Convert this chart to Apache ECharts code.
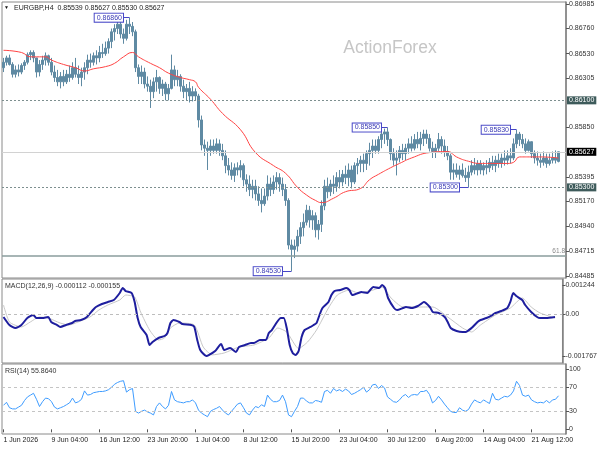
<!DOCTYPE html>
<html><head><meta charset="utf-8">
<script src="https://cdn.jsdelivr.net/npm/echarts@6/dist/echarts.min.js"></script>
<style>html,body{margin:0;padding:0;background:#fff}#c{width:600px;height:450px}</style>
</head><body><div id="c"></div>
<script>
// ---- data ----
const tickLabels = ['1 Jun 2026','9 Jun 04:00','16 Jun 12:00','23 Jun 20:00','1 Jul 04:00','8 Jul 12:00','15 Jul 20:00','23 Jul 04:00','30 Jul 12:00','6 Aug 20:00','14 Aug 04:00','21 Aug 12:00'];
const barsPerTick = 16;
const slotCount = 188;

const opens = [
.8640,.8645,.8649,.8643,.8634,.8638,.8636,.8642,.8645,.8652,
.8654,.8649,.8636,.8643,.8647,.8651,.8645,.8636,.8631,.8627,
.8632,.8627,.8634,.8631,.8640,.8634,.8631,.8636,.8640,.8647,
.8645,.8651,.8649,.8654,.8653,.8658,.8664,.8673,.8676,.8680,
.8671,.8667,.8680,.8678,.8673,.8640,.8632,.8636,.8625,.8623,
.8618,.8627,.8631,.8621,.8625,.8616,.8621,.8638,.8629,.8632,
.8623,.8618,.8621,.8614,.8618,.8614,.8592,.8569,.8566,.8564,
.8568,.8564,.8570,.8564,.8559,.8550,.8546,.8541,.8548,.8546,
.8550,.8537,.8533,.8528,.8531,.8524,.8518,.8515,.8522,.8533,
.8528,.8535,.8539,.8533,.8528,.8518,.8477,.8473,.8476,.8485,
.8493,.8498,.8509,.8500,.8504,.8491,.8496,.8513,.8531,.8526,
.8533,.8531,.8539,.8535,.8542,.8539,.8546,.8535,.8550,.8552,
.8555,.8552,.8561,.8564,.8568,.8564,.8574,.8579,.8581,.8574,
.8561,.8555,.8557,.8564,.8561,.8566,.8570,.8566,.8574,.8570,
.8575,.8579,.8575,.8566,.8563,.8566,.8574,.8568,.8563,.8559,
.8544,.8546,.8542,.8546,.8541,.8539,.8544,.8550,.8546,.8552,
.8546,.8550,.8548,.8553,.8550,.8555,.8552,.8557,.8555,.8559,
.8557,.8570,.8579,.8574,.8570,.8564,.8572,.8561,.8557,.8555,
.8553,.8557,.8552,.8555,.8557,.85539];
const closes = [
.8645,.8649,.8643,.8634,.8638,.8636,.8642,.8645,.8652,.8654,
.8649,.8636,.8643,.8647,.8651,.8645,.8636,.8631,.8627,.8632,
.8627,.8634,.8631,.8640,.8634,.8631,.8636,.8640,.8647,.8645,
.8651,.8649,.8654,.8653,.8658,.8664,.8673,.8676,.8680,.8671,
.8667,.8680,.8678,.8673,.8640,.8632,.8636,.8625,.8623,.8618,
.8627,.8631,.8621,.8625,.8616,.8621,.8638,.8629,.8632,.8623,
.8618,.8621,.8614,.8618,.8614,.8592,.8569,.8566,.8564,.8568,
.8564,.8570,.8564,.8559,.8550,.8546,.8541,.8548,.8546,.8550,
.8537,.8533,.8528,.8531,.8524,.8518,.8515,.8522,.8533,.8528,
.8535,.8539,.8533,.8528,.8518,.8477,.8473,.8476,.8485,.8493,
.8498,.8509,.8500,.8504,.8491,.8496,.8513,.8531,.8526,.8533,
.8531,.8539,.8535,.8542,.8539,.8546,.8535,.8550,.8552,.8555,
.8552,.8561,.8564,.8568,.8564,.8574,.8579,.8581,.8574,.8561,
.8555,.8557,.8564,.8561,.8566,.8570,.8566,.8574,.8570,.8575,
.8579,.8575,.8566,.8563,.8566,.8574,.8568,.8563,.8559,.8544,
.8546,.8542,.8546,.8541,.8539,.8544,.8550,.8546,.8552,.8546,
.8550,.8548,.8553,.8550,.8555,.8552,.8557,.8555,.8559,.8557,
.8570,.8579,.8574,.8570,.8564,.8572,.8561,.8557,.8555,.8553,
.8557,.8552,.8555,.8557,.8555,.85627];
const lows = [
.8636,.8642,.8642,.8631,.8631,.8632,.8634,.8638,.8643,.8647,
.8645,.8631,.8632,.8638,.8642,.8642,.8633,.8627,.8623,.8621,
.8623,.8625,.8627,.8629,.8631,.8625,.8623,.8629,.8634,.8640,
.8642,.8643,.8645,.8649,.8651,.8653,.8658,.8665,.8671,.8667,
.8662,.8665,.8671,.8669,.8636,.8625,.8625,.8621,.8618,.8603,
.8612,.8618,.8616,.8614,.8610,.8610,.8620,.8623,.8623,.8618,
.8612,.8610,.8608,.8609,.8610,.8585,.8564,.8559,.8546,.8559,
.8561,.8561,.8559,.8555,.8543,.8541,.8537,.8535,.8541,.8539,
.8531,.8526,.8522,.8520,.8518,.8513,.8507,.8513,.8518,.8522,
.8524,.8528,.8526,.8522,.8513,.8473,.8453,.8465,.8471,.8478,
.8485,.8495,.8493,.8491,.8484,.8482,.8489,.8509,.8520,.8522,
.8524,.8526,.8529,.8531,.8533,.8531,.8529,.8533,.8542,.8544,
.8544,.8546,.8550,.8557,.8561,.8561,.8566,.8570,.8568,.8555,
.8550,.8541,.8553,.8555,.8555,.8561,.8563,.8564,.8566,.8564,
.8568,.8570,.8563,.8557,.8557,.8563,.8561,.8558,.8555,.8537,
.8537,.8539,.8537,.8539,.8535,.8530,.8541,.8542,.8541,.8542,
.8541,.8542,.8544,.8546,.8544,.8548,.8548,.8550,.8551,.8552,
.8555,.8566,.8568,.8566,.8561,.8563,.8557,.8552,.8550,.8548,
.8550,.8548,.8550,.8552,.8552,.85530];
const highs = [
.8649,.8651,.8652,.8645,.8642,.8643,.8644,.8647,.8654,.8656,
.8656,.8649,.8647,.8651,.8654,.8652,.8649,.8642,.8638,.8636,
.8638,.8638,.8642,.8645,.8649,.8642,.8640,.8645,.8652,.8653,
.8654,.8656,.8660,.8662,.8664,.8667,.8676,.8680,.8684,.8682,
.8676,.8684,.8686,.8682,.8675,.8643,.8642,.8640,.8632,.8629,
.8631,.8638,.8632,.8629,.8627,.8625,.8652,.8642,.8638,.8634,
.8629,.8625,.8627,.8623,.8621,.8616,.8596,.8574,.8572,.8574,
.8574,.8575,.8574,.8570,.8564,.8557,.8553,.8552,.8553,.8555,
.8552,.8542,.8541,.8537,.8537,.8531,.8529,.8529,.8541,.8539,
.8541,.8544,.8543,.8539,.8533,.8520,.8482,.8482,.8491,.8498,
.8506,.8514,.8513,.8509,.8507,.8500,.8518,.8537,.8539,.8537,
.8541,.8544,.8546,.8546,.8550,.8552,.8550,.8553,.8557,.8559,
.8561,.8564,.8571,.8574,.8574,.8577,.8583,.8584,.8585,.8575,
.8566,.8564,.8568,.8570,.8570,.8575,.8577,.8579,.8581,.8581,
.8583,.8583,.8579,.8572,.8570,.8580,.8577,.8574,.8568,.8561,
.8552,.8552,.8550,.8552,.8548,.8550,.8555,.8557,.8555,.8555,
.8553,.8555,.8557,.8559,.8559,.8561,.8561,.8564,.8564,.8566,
.8575,.8583,.8581,.8579,.8575,.8574,.8572,.8564,.8563,.8561,
.8563,.8561,.8561,.8563,.8564,.85627];

const maIdx = [0,6,9,14,16,20,24,27,30,34,37,40,43,45,49,52,55,59,62,64,65,69,73,79,84,90,94,98,101,104,106,110,114,119,122,125,129,132,136,142,148,151,155,159,163,168,170,172,176,179,185];
const maVal = [.8656,.8654,.8650,.8650,.8647,.8643,.8640,.8637,.8639,.8641,.8644,.8650,.8654,.8650,.8644,.8640,.8635,.8631,.8629,.8627,.8622,.8611,.8598,.8583,.8562,.8550,.8543,.8530,.8523,.8518,.8516,.8520,.8526,.8529,.8537,.8542,.8548,.8552,.8557,.8562,.8563,.8558,.8554,.8552,.8552,.8552,.8553,.8558,.8558,.8558,.8557];

const macdIdx = [0,2,4,6,8,10,11,13,15,16,18,19,21,23,24,26,28,30,31,33,35,37,39,40,41,43,44,45,46,48,49,50,52,54,55,56,57,59,60,63,64,65,66,68,69,71,73,74,76,78,79,81,83,84,86,88,89,90,93,94,95,96,97,98,99,100,101,103,104,105,106,107,109,110,111,113,115,116,117,119,120,122,123,124,126,127,128,129,131,132,134,135,137,139,140,141,143,144,146,148,149,150,152,154,155,157,159,160,162,164,165,167,169,170,171,172,174,175,177,179,180,182,185];
const macdVal = [-114e-6,-454e-6,-581e-6,-454e-6,-157e-6,-30e-6,-157e-6,-157e-6,-114e-6,-326e-6,
-454e-6,-538e-6,-454e-6,-369e-6,-284e-6,-242e-6,-114e-6,182e-6,310e-6,437e-6,
522e-6,606e-6,903e-6,1115e-6,988e-6,903e-6,522e-6,-157e-6,-538e-6,-877e-6,
-1302e-6,-1174e-6,-1005e-6,-920e-6,-793e-6,-369e-6,-242e-6,-326e-6,-411e-6,-454e-6,
-538e-6,-1090e-6,-1514e-6,-1767e-6,-1720e-6,-1556e-6,-1259e-6,-1514e-6,-1429e-6,-1598e-6,
-1387e-6,-1302e-6,-1217e-6,-1217e-6,-1090e-6,-1090e-6,-793e-6,-666e-6,-157e-6,-157e-6,
-581e-6,-1302e-6,-1641e-6,-1726e-6,-1556e-6,-962e-6,-666e-6,-538e-6,-454e-6,-369e-6,
-30e-6,267e-6,522e-6,818e-6,988e-6,1030e-6,1115e-6,1030e-6,818e-6,903e-6,
945e-6,903e-6,1030e-6,1158e-6,1115e-6,1244e-6,1115e-6,691e-6,267e-6,182e-6,
267e-6,310e-6,267e-6,352e-6,437e-6,522e-6,310e-6,98e-6,55e-6,-114e-6,
-326e-6,-581e-6,-708e-6,-750e-6,-750e-6,-581e-6,-326e-6,-242e-6,-157e-6,-30e-6,
55e-6,140e-6,267e-6,522e-6,903e-6,776e-6,606e-6,394e-6,98e-6,-114e-6,
-157e-6,-157e-6,-112e-6];

const sigIdx = [0,2,6,9,12,15,19,22,25,29,32,35,39,41,44,46,49,52,54,56,59,64,67,70,74,79,84,89,92,95,99,102,105,109,112,116,119,124,127,130,134,139,144,149,154,157,160,165,170,174,177,180,185];
const sigVal = [394e-6,-326e-6,-538e-6,-326e-6,-114e-6,-157e-6,-369e-6,-454e-6,-326e-6,-114e-6,
182e-6,394e-6,606e-6,818e-6,733e-6,98e-6,-666e-6,-1090e-6,-1005e-6,-581e-6,
-369e-6,-454e-6,-1387e-6,-1720e-6,-1641e-6,-1387e-6,-1302e-6,-1005e-6,-581e-6,-750e-6,
-1450e-6,-1174e-6,-666e-6,267e-6,818e-6,1030e-6,903e-6,1030e-6,1158e-6,691e-6,
310e-6,310e-6,310e-6,-114e-6,-581e-6,-750e-6,-454e-6,-30e-6,267e-6,691e-6,
310e-6,55e-6,-155e-6];

const rsiVal = [
40,45,36,34,34,37,40,48,54,57,
60,50,38,46,52,51,46,37,34,36,
38,41,44,52,44,46,50,64,57,58,
61,62,63,63,64,66,70,75,78,80,
81,62,66,68,30,27,30,32,29,27,
24,38,44,38,34,40,63,49,46,45,
44,46,46,49,44,32,27,24,21,30,
33,35,38,32,27,24,30,36,42,44,
36,27,24,32,38,36,41,38,57,50,
46,46,48,57,46,24,21,30,38,52,
52,47,44,44,48,47,45,63,65,60,
68,64,66,63,67,64,58,60,63,66,
70,62,66,74,75,68,73,69,54,50,
46,45,49,55,58,53,57,58,57,63,
63,65,58,44,48,55,49,42,36,30,
28,28,36,32,30,33,42,49,46,44,
49,46,43,60,50,49,52,55,54,57,
64,80,73,57,55,57,49,46,44,45,
44,48,44,49,50,55.864];

const priceTicks = [0.86985,0.86760,0.86530,0.86305,0.85850,0.85395,0.85170,0.84940,0.84715,0.84485];
const dottedLevels = [0.86100, 0.85300];
const lastPrice = 0.85627;
const fibLevel = 0.84669;
const annIdx = [40,126,169,152,93];
const annBar = [42,128,171,155,96];
const annPrice = [0.86860,0.85850,0.85830,0.85300,0.84530];
const macdTicks = [0.001244, 0, -0.001767];
const rsiTicks = [0,30,70,100];
const rsiLevels = [30,70];
const header = 'EURGBP,H4  0.85539 0.85627 0.85530 0.85627';
const macdTitle = 'MACD(12,26,9) -0.000112 -0.000155';
const rsiTitle = 'RSI(14) 55.8640';

// ---- chart ----
const FF = '"Liberation Sans", Arial, sans-serif';
const cats = Array.from({length: slotCount}, (_, i) => i % barsPerTick === 0 ? (tickLabels[i / barsPerTick] || '') : '');
const showTick = (i) => i % barsPerTick === 0 && i / barsPerTick < tickLabels.length;
const BAR = '#5f8aa3';
const chart = echarts.init(document.getElementById('c'), null, {renderer: 'canvas'});

const gridBase = {left: 2, right: 34, show: true, borderColor: '#8a8a8a', borderWidth: 1, backgroundColor: '#fff'};
const hiddenX = (g) => ({type: 'category', gridIndex: g, data: cats, boundaryGap: true,
  axisLabel: {show: false}, axisTick: {show: false}, axisLine: {show: false}, splitLine: {show: false}});
const rightY = (g, min, max, ticks, fmt) => ({type: 'value', gridIndex: g, position: 'right', min, max,
  splitLine: {show: false},
  axisLine: {show: true, lineStyle: {color: '#808080', width: 1.5}},
  axisTick: {show: true, customValues: ticks, length: 3, lineStyle: {color: '#555'}},
  axisLabel: {customValues: ticks, formatter: fmt, fontSize: 7, color: '#333', margin: 3, fontFamily: FF}});

const boxLabel = (bg) => ({show: true, position: 'end', distance: 1, formatter: (p) => Number(p.value).toFixed(5),
  color: '#fff', backgroundColor: bg, padding: [1, 2, 0, 2], fontSize: 7, fontFamily: FF});

const option = {
  animation: false,
  grid: [
    Object.assign({top: 2, height: 276}, gridBase),
    Object.assign({top: 279, height: 84}, gridBase),
    Object.assign({top: 364, height: 70}, gridBase)
  ],
  xAxis: [hiddenX(0), hiddenX(1), {
    type: 'category', gridIndex: 2, data: cats, boundaryGap: true,
    axisLine: {show: false},
    axisTick: {show: true, interval: showTick, alignWithLabel: true, length: 3, lineStyle: {color: '#555'}},
    axisLabel: {interval: showTick, align: 'left', fontSize: 7, color: '#222', margin: 3, fontFamily: FF},
    splitLine: {show: false}
  }],
  yAxis: [
    rightY(0, 0.84467, 0.87004, priceTicks, (v) => v.toFixed(5)),
    rightY(1, -0.002065, 0.001497, macdTicks, (v) => v === 0 ? '0.00' : v.toFixed(6)),
    rightY(2, -7.8, 108.8, rsiTicks, (v) => String(v))
  ],
  series: [
    {
      type: 'candlestick', xAxisIndex: 0, yAxisIndex: 0, barWidth: 1.6,
      data: opens.map((o, i) => [o, closes[i], lows[i], highs[i]]),
      itemStyle: {color: BAR, color0: BAR, borderColor: BAR, borderColor0: BAR, borderWidth: 1},
      markLine: {
        symbol: 'none', silent: true, animation: false, precision: 6,
        data: [
          ...dottedLevels.map(v => ({yAxis: v, lineStyle: {type: [2, 2], color: '#7d8f8f', width: 1}, label: boxLabel('#3e5b5b')})),
          {yAxis: lastPrice, lineStyle: {type: 'solid', color: '#d2d2d2', width: 1}, label: boxLabel('#000')},
          {yAxis: fibLevel, lineStyle: {type: 'solid', color: '#8a9c9c', width: 1.5},
           label: {show: true, position: 'insideEndTop', formatter: '61.8', color: '#8a8a8a', fontSize: 6.5, fontFamily: FF, distance: 1}}
        ]
      },
      z: 3
    },
    {
      type: 'line', xAxisIndex: 0, yAxisIndex: 0, smooth: true, showSymbol: false, symbol: 'none',
      data: maIdx.map((x, k) => [x, maVal[k]]),
      lineStyle: {color: '#ff4444', width: 1}, z: 4,
      markLine: {
        symbol: 'none', silent: true, animation: false, precision: 6,
        lineStyle: {color: '#4646c6', width: 1, type: 'solid'}, label: {show: false},
        data: annIdx.map((x, k) => [{coord: [x, annPrice[k]]}, {coord: [annBar[k], annPrice[k]]}])
      },
      markPoint: {
        symbol: 'rect', symbolSize: 1, itemStyle: {color: 'rgba(0,0,0,0)'}, silent: true, animation: false,
        data: annIdx.map((x, k) => ({coord: [x, annPrice[k]], value: annPrice[k]})),
        label: {show: true, position: 'left', distance: 0, formatter: (p) => Number(p.value).toFixed(5),
          color: '#3a3ab5', backgroundColor: '#fff', borderColor: '#4848c8', borderWidth: 1,
          padding: [1, 1, 0, 2], fontSize: 7, fontFamily: FF}
      }
    },
    {
      type: 'line', xAxisIndex: 1, yAxisIndex: 1, showSymbol: false, symbol: 'none', smooth: 0.2,
      data: sigIdx.map((x, k) => [x, sigVal[k]]),
      lineStyle: {color: '#c8c8c8', width: 1},
      markLine: {symbol: 'none', silent: true, label: {show: false}, precision: 6,
        lineStyle: {type: [3, 3], color: '#bdbdbd', width: 1}, data: [{yAxis: 0}]}
    },
    {
      type: 'line', xAxisIndex: 1, yAxisIndex: 1, showSymbol: false, symbol: 'none', smooth: 0.2,
      data: macdIdx.map((x, k) => [x, macdVal[k]]),
      lineStyle: {color: '#1e1e9e', width: 2}
    },
    {
      type: 'line', xAxisIndex: 2, yAxisIndex: 2, showSymbol: false, symbol: 'none',
      data: rsiVal,
      lineStyle: {color: '#3e9cff', width: 1},
      markLine: {symbol: 'none', silent: true, label: {show: false},
        lineStyle: {type: [3, 3], color: '#c4c4c4', width: 1}, data: rsiLevels.map(v => ({yAxis: v}))}
    }
  ],
  graphic: [
    {type: 'text', x: 4, y: 8, style: {text: '▼', font: '5px ' + FF, fill: '#111', verticalAlign: 'middle'}},
    {type: 'text', x: 14, y: 8, style: {text: header, font: '7px ' + FF, fill: '#222', verticalAlign: 'middle'}},
    {type: 'text', x: 390, y: 48, style: {text: 'ActionForex', font: '17.5px ' + FF, fill: '#c6c6c6', align: 'center', verticalAlign: 'middle'}},
    {type: 'text', x: 5, y: 286, style: {text: macdTitle, font: '7px ' + FF, fill: '#333', verticalAlign: 'middle'}},
    {type: 'text', x: 5, y: 371, style: {text: rsiTitle, font: '7px ' + FF, fill: '#333', verticalAlign: 'middle'}}
  ]
};
chart.setOption(option);
</script>
</body></html>
